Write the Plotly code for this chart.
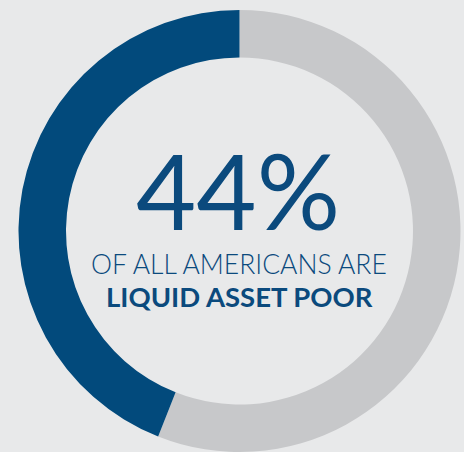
import plotly.graph_objects as go

labels = ["Not liquid asset poor", "Liquid asset poor"]
values = [56, 44]
colors = ["#c7c8ca", "#024a7c"]
headline = "44%"
line1 = "OF ALL AMERICANS ARE"
line2 = "<b>LIQUID ASSET POOR</b>"

W, H = 464, 452
BG = "#e8e9ea"
BLUE = "#0b4a7d"

cx, cy, r = 239.5, 231.0, 221.0

def px_x(x):
    return x / W

def px_y(y):
    return 1 - y / H

fig = go.Figure(go.Pie(
    labels=labels,
    values=values,
    hole=0.785,
    sort=False,
    direction="clockwise",
    rotation=0,
    marker=dict(colors=colors, line=dict(width=0)),
    textinfo="none",
    hoverinfo="label+percent",
    domain=dict(x=[px_x(cx - r), px_x(cx + r)], y=[px_y(cy + r), px_y(cy - r)]),
    showlegend=False,
))

fig.add_annotation(x=px_x(238), y=px_y(189), xref="paper", yref="paper",
                   text=headline, showarrow=False,
                   font=dict(family="Lato", size=104, color=BLUE, weight=400),
                   xanchor="center", yanchor="middle")
fig.add_annotation(x=px_x(239), y=px_y(264), xref="paper", yref="paper",
                   text=line1, showarrow=False,
                   font=dict(family="Lato", size=26.5, color=BLUE, weight=300),
                   xanchor="center", yanchor="middle")
fig.add_annotation(x=px_x(239.5), y=px_y(296), xref="paper", yref="paper",
                   text=line2, showarrow=False,
                   font=dict(family="Lato", size=27.5, color=BLUE),
                   xanchor="center", yanchor="middle")

fig.update_layout(width=W, height=H, margin=dict(l=0, r=0, t=0, b=0),
                  paper_bgcolor=BG, plot_bgcolor=BG)
fig.write_html("out.html")
